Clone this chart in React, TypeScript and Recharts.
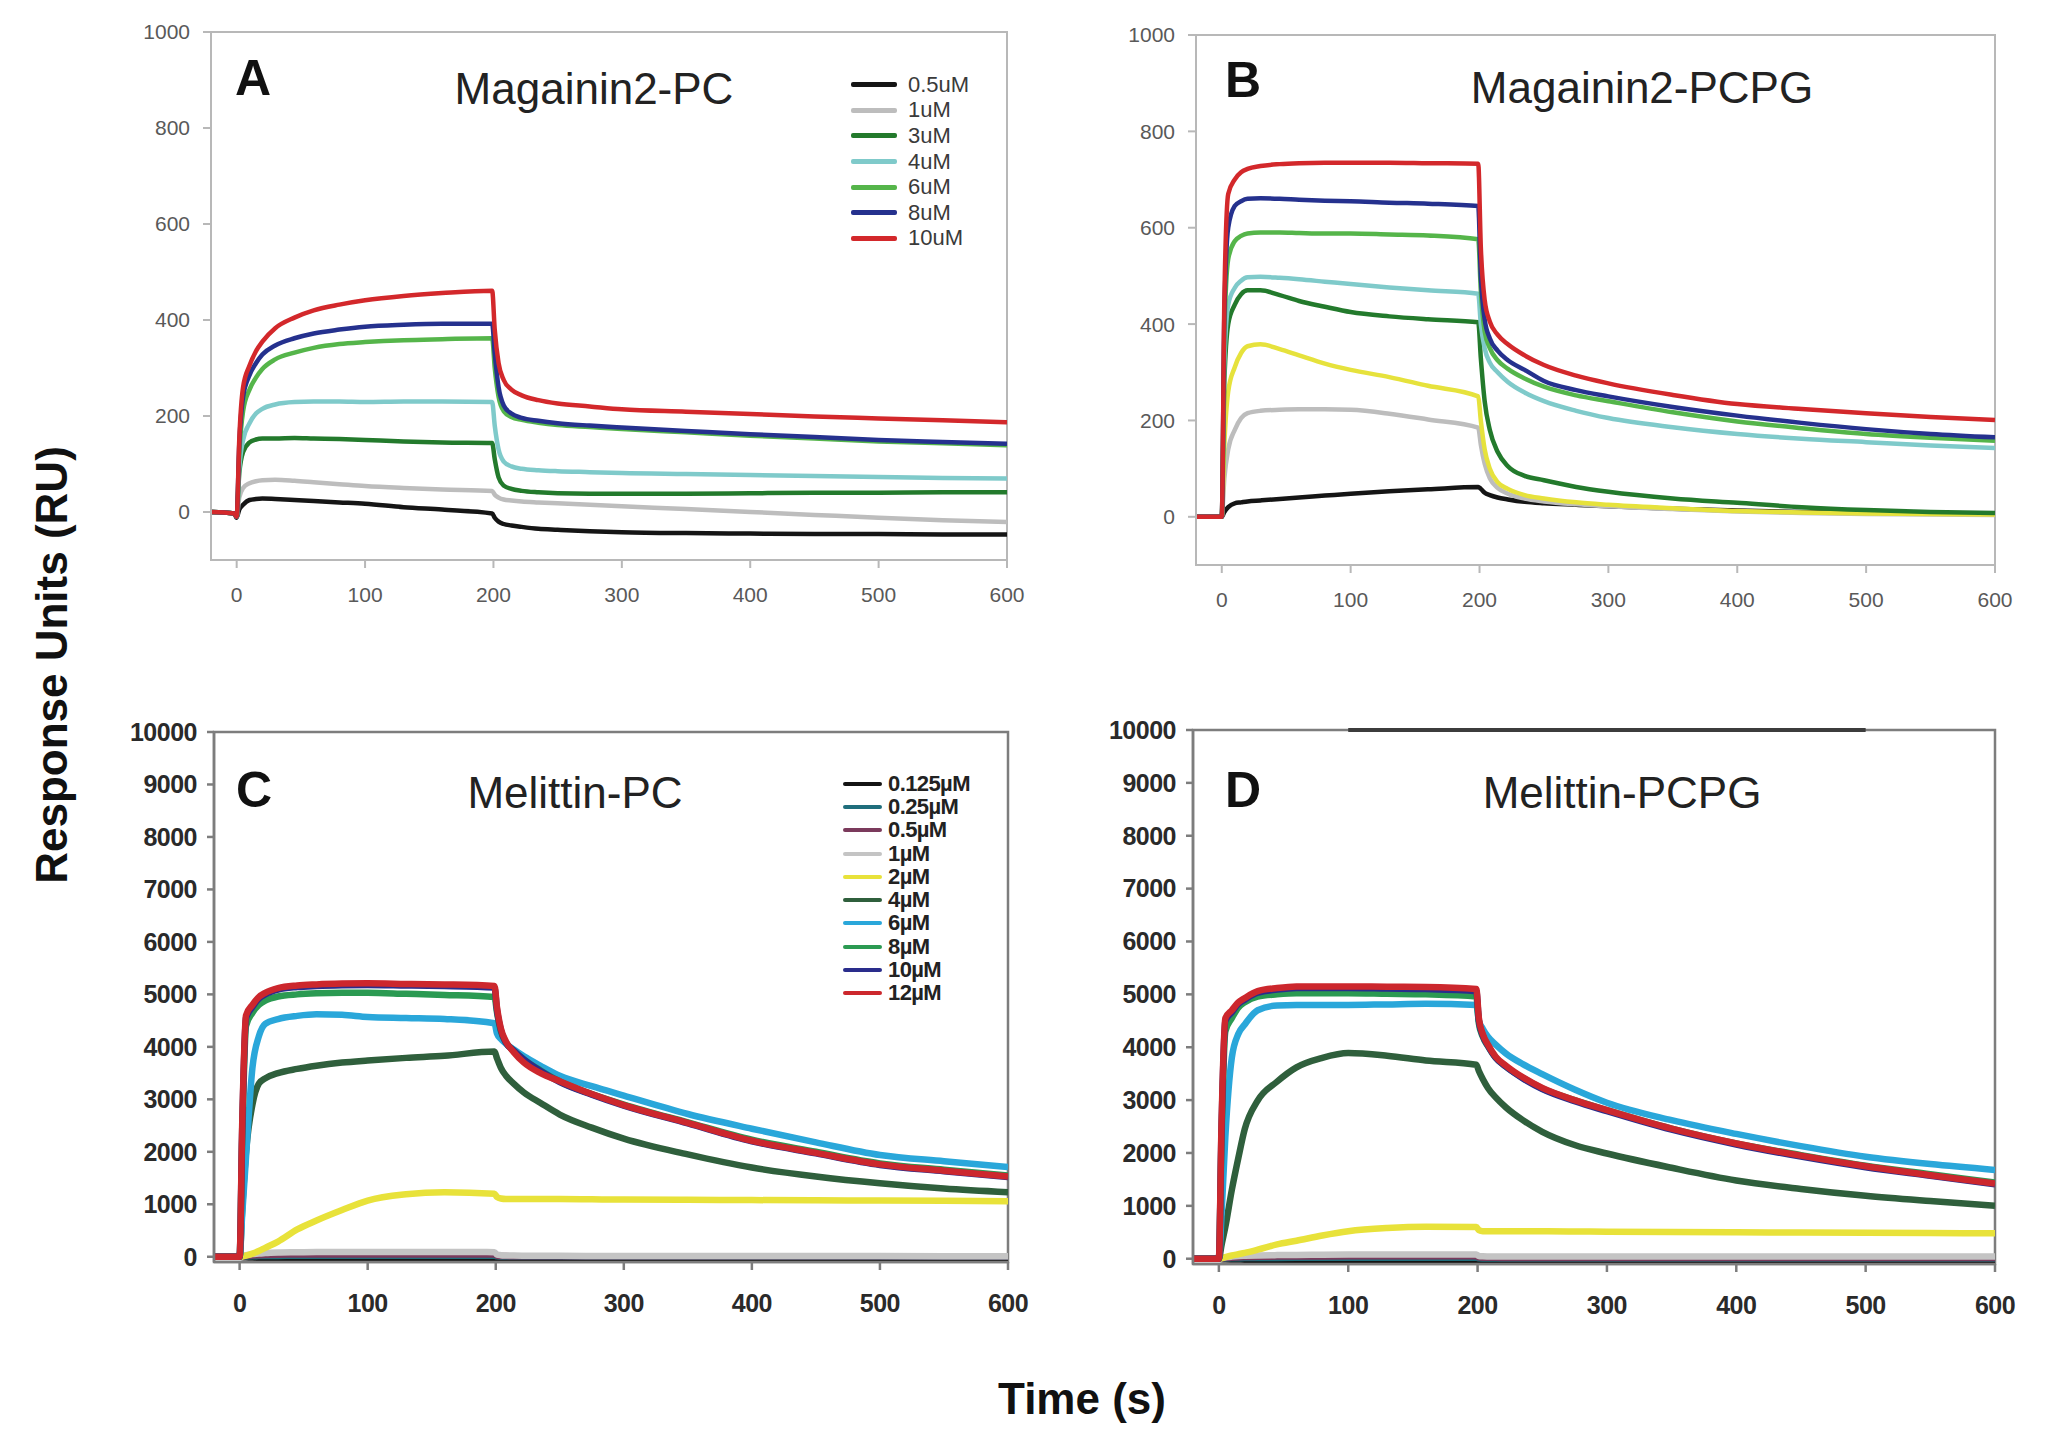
import React from 'react';
import { LineChart, Line, XAxis, YAxis, ReferenceArea, ReferenceLine, Legend } from 'recharts';

// time points (s) shared by every panel
const TIME = [-20, -2, 0, 2, 5, 10, 15, 20, 30, 45, 60, 80, 100, 130, 160, 199, 201, 204, 208, 214, 222, 235, 250, 275, 300, 350, 400, 450, 500, 550, 600];
const X_TICKS = [0, 100, 200, 300, 400, 500, 600];
const Y_TICKS_MAG = [0, 200, 400, 600, 800, 1000];
const Y_TICKS_MEL = [0, 1000, 2000, 3000, 4000, 5000, 6000, 7000, 8000, 9000, 10000];

// A: Magainin2-PC
const magPcLabels = ['0.5uM', '1uM', '3uM', '4uM', '6uM', '8uM', '10uM'];
const magPcColors = ['#151515', '#bdbdbd', '#237a2c', '#7fcaca', '#55b54a', '#25318e', '#d3282b'];
const magPc05 = [0, -3, -12, 5, 15, 25, 27, 28, 27, 25, 23, 20, 17, 10, 5, -3, -12, -20, -25, -28, -31, -35, -37, -40, -42, -44, -45, -46, -46, -47, -47];
const magPc1 = [0, -3, -10, 30, 50, 60, 64, 66, 67, 65, 62, 58, 54, 50, 47, 44, 36, 30, 26, 24, 22, 20, 18, 15, 12, 6, 0, -6, -12, -17, -21];
const magPc3 = [0, -3, -10, 80, 125, 145, 151, 153, 153, 154, 153, 152, 150, 147, 145, 144, 110, 72, 55, 48, 44, 41, 39, 38, 38, 38, 39, 40, 40, 41, 41];
const magPc4 = [0, -3, -10, 90, 150, 185, 205, 215, 224, 229, 230, 230, 229, 230, 230, 229, 180, 130, 105, 95, 90, 87, 85, 83, 81, 79, 77, 75, 73, 71, 70];
const magPc6 = [0, -3, -10, 120, 210, 255, 280, 298, 318, 332, 342, 350, 354, 358, 360, 362, 300, 240, 210, 198, 192, 186, 181, 177, 173, 166, 159, 153, 147, 143, 139];
const magPc8 = [0, -3, -10, 140, 240, 285, 310, 328, 347, 362, 372, 380, 386, 390, 392, 392, 330, 260, 222, 205, 196, 190, 185, 180, 176, 169, 162, 156, 150, 146, 142];
const magPc10 = [0, -3, -10, 150, 260, 305, 335, 355, 383, 405, 420, 432, 441, 450, 456, 461, 380, 310, 275, 255, 243, 233, 226, 220, 214, 209, 204, 199, 195, 191, 187];

// B: Magainin2-PCPG (the yellow trace has no legend entry in the figure)
const magPgColors = ['#151515', '#bdbdbd', '#e6e23c', '#237a2c', '#7fcaca', '#55b54a', '#25318e', '#d3282b'];
const magPg05 = [0, 0, 0, 10, 20, 28, 30, 32, 34, 37, 40, 44, 48, 53, 57, 62, 58, 50, 45, 40, 36, 31, 28, 25, 22, 17, 13, 10, 8, 7, 6];
const magPg1 = [0, 0, 0, 80, 140, 180, 205, 215, 220, 222, 223, 223, 222, 214, 202, 185, 150, 110, 80, 60, 48, 38, 32, 26, 22, 16, 11, 8, 6, 5, 4];
const magPgYellow = [0, 0, 0, 150, 260, 310, 340, 354, 358, 348, 335, 318, 305, 290, 272, 250, 200, 140, 100, 72, 58, 45, 38, 30, 25, 18, 12, 9, 7, 6, 5];
const magPg3 = [0, 0, 0, 280, 400, 440, 462, 470, 470, 460, 448, 436, 425, 416, 410, 404, 330, 240, 180, 135, 105, 85, 76, 62, 52, 38, 29, 20, 14, 10, 8];
const magPg4 = [0, 0, 0, 320, 440, 475, 490, 497, 498, 496, 493, 488, 483, 476, 470, 463, 400, 350, 320, 300, 280, 258, 240, 220, 205, 186, 172, 162, 155, 148, 143];
const magPg6 = [0, 0, 0, 380, 535, 572, 583, 588, 590, 590, 589, 588, 588, 586, 584, 576, 470, 385, 350, 325, 307, 287, 270, 252, 240, 217, 198, 184, 172, 164, 158];
const magPg8 = [0, 0, 0, 420, 600, 645, 655, 660, 661, 660, 658, 656, 655, 652, 650, 645, 500, 410, 370, 345, 325, 305, 282, 263, 250, 228, 210, 195, 182, 172, 165];
const magPg10 = [0, 0, 0, 450, 670, 700, 715, 722, 728, 732, 734, 735, 735, 735, 734, 733, 560, 450, 405, 378, 358, 335, 315, 293, 277, 253, 234, 224, 215, 207, 201];

// C: Melittin-PC
const melLabels = ['0.125\u00b5M', '0.25\u00b5M', '0.5\u00b5M', '1\u00b5M', '2\u00b5M', '4\u00b5M', '6\u00b5M', '8\u00b5M', '10\u00b5M', '12\u00b5M'];
const melColors = ['#141414', '#1f6e7c', '#7b3a5c', '#c4c4c4', '#e8e23a', '#2f5f3c', '#2aa7da', '#2b9a52', '#2a2d8c', '#cc272d'];
const melPc0125 = [0, 0, 0, -5, -10, -15, -18, -20, -22, -25, -28, -30, -32, -33, -34, -35, -35, -36, -36, -37, -37, -38, -38, -38, -39, -39, -40, -40, -40, -40, -40];
const melPc025 = [0, 0, 0, 2, 5, 10, 12, 14, 16, 18, 18, 18, 18, 18, 18, 18, 8, 6, 5, 5, 5, 5, 5, 5, 5, 5, 5, 5, 5, 5, 5];
const melPc05 = [0, 0, 0, 5, 15, 25, 30, 35, 40, 42, 44, 45, 45, 45, 45, 45, 20, 15, 12, 10, 10, 10, 10, 10, 10, 10, 10, 10, 10, 10, 10];
const melPc1 = [0, 0, 0, 10, 30, 50, 60, 70, 80, 85, 90, 90, 90, 90, 90, 88, 40, 30, 25, 22, 20, 18, 17, 16, 15, 14, 13, 12, 12, 11, 10];
const melPc2 = [0, 0, 0, 5, 20, 60, 110, 170, 290, 520, 690, 890, 1070, 1190, 1230, 1200, 1140, 1110, 1100, 1100, 1100, 1100, 1100, 1095, 1090, 1085, 1080, 1075, 1070, 1065, 1060];
const melPc4 = [0, 0, 0, 900, 2000, 2900, 3300, 3400, 3500, 3580, 3640, 3700, 3740, 3790, 3830, 3910, 3780, 3600, 3450, 3300, 3130, 2930, 2710, 2460, 2250, 1950, 1700, 1530, 1400, 1300, 1230];
const melPc6 = [0, 0, 0, 800, 1900, 3600, 4200, 4440, 4530, 4590, 4620, 4610, 4570, 4550, 4530, 4450, 4250, 4150, 4060, 3950, 3820, 3640, 3450, 3250, 3070, 2720, 2440, 2180, 1940, 1820, 1710];
const melPc8 = [0, 0, 0, 2200, 4400, 4650, 4800, 4880, 4960, 5000, 5020, 5030, 5030, 5010, 4990, 4950, 4650, 4300, 4080, 3930, 3760, 3550, 3340, 3100, 2900, 2560, 2230, 2000, 1780, 1660, 1550];
const melPc10 = [0, 0, 0, 2400, 4550, 4760, 4920, 5000, 5090, 5140, 5160, 5175, 5180, 5170, 5160, 5130, 4700, 4320, 4080, 3930, 3760, 3540, 3330, 3090, 2880, 2540, 2200, 1970, 1750, 1630, 1520];
const melPc12 = [0, 0, 0, 2500, 4600, 4800, 4950, 5030, 5120, 5170, 5190, 5205, 5210, 5200, 5190, 5160, 4750, 4350, 4100, 3900, 3700, 3500, 3345, 3100, 2890, 2550, 2210, 1980, 1760, 1640, 1530];

// D: Melittin-PCPG
const melPg0125 = [0, 0, 0, -5, -10, -14, -16, -18, -20, -22, -24, -25, -26, -27, -28, -28, -28, -29, -29, -30, -30, -30, -30, -30, -30, -30, -30, -30, -30, -30, -30];
const melPg025 = [0, 0, 0, 2, 5, 8, 10, 12, 14, 15, 16, 16, 16, 16, 16, 16, 8, 6, 5, 5, 5, 5, 5, 5, 5, 5, 5, 5, 5, 5, 5];
const melPg05 = [0, 0, 0, 5, 12, 20, 25, 30, 35, 40, 42, 44, 45, 45, 45, 45, 25, 20, 18, 16, 15, 15, 15, 15, 15, 15, 15, 15, 15, 15, 15];
const melPg1 = [0, 0, 0, 10, 25, 40, 50, 55, 62, 68, 72, 76, 78, 80, 80, 80, 50, 45, 42, 40, 40, 40, 40, 40, 40, 40, 40, 40, 40, 40, 40];
const melPg2 = [0, 0, 0, 10, 30, 60, 85, 110, 170, 270, 340, 440, 520, 580, 605, 600, 540, 520, 520, 520, 520, 520, 520, 515, 512, 505, 500, 495, 490, 485, 480];
const melPg4 = [0, 0, 0, 250, 600, 1300, 1900, 2450, 2990, 3350, 3620, 3800, 3890, 3840, 3750, 3670, 3550, 3400, 3230, 3050, 2860, 2620, 2400, 2150, 1990, 1720, 1480, 1320, 1190, 1090, 1000];
const melPg6 = [0, 0, 0, 800, 2300, 3800, 4250, 4430, 4700, 4790, 4800, 4800, 4800, 4810, 4820, 4800, 4500, 4350, 4200, 4050, 3880, 3680, 3490, 3200, 2950, 2620, 2360, 2130, 1930, 1790, 1680];
const melPg8 = [0, 0, 0, 2200, 4300, 4550, 4750, 4850, 4960, 5000, 5020, 5020, 5020, 5010, 5000, 4960, 4450, 4200, 4020, 3800, 3630, 3420, 3220, 3000, 2810, 2460, 2180, 1960, 1760, 1600, 1440];
const melPg10 = [0, 0, 0, 2400, 4500, 4660, 4820, 4900, 5030, 5090, 5120, 5120, 5120, 5110, 5100, 5060, 4500, 4220, 4030, 3800, 3630, 3410, 3210, 2980, 2790, 2440, 2160, 1930, 1730, 1570, 1410];
const melPg12 = [0, 0, 0, 2500, 4550, 4700, 4850, 4930, 5060, 5120, 5150, 5150, 5150, 5145, 5140, 5100, 4550, 4250, 4050, 3820, 3650, 3430, 3230, 3000, 2810, 2460, 2180, 1950, 1750, 1580, 1420];

const FONT = '"Liberation Sans", Arial, sans-serif';

const buildRows = (series: number[][]) =>
  TIME.map((t, i) => {
    const row: Record<string, number> = { t };
    series.forEach((s, k) => {
      row['s' + k] = s[i];
    });
    return row;
  });

interface PanelProps {
  left: number;
  top: number;
  plotW: number;
  plotH: number;
  series: number[][];
  colors: string[];
  yDomain: [number, number];
  yTicks: number[];
  heavy: boolean;
  legend?: { labels: string[]; colors: string[]; left: number; top: number; row: number; line: number };
  topMark?: boolean;
}

const Panel: React.FC<PanelProps> = ({ left, top, plotW, plotH, series, colors, yDomain, yTicks, heavy, legend, topMark }) => {
  const yW = 100;
  const xH = 60;
  // extra room on top so the highest tick label is not clipped
  const margin = { top: 30, right: 30, bottom: 0, left: 0 };
  const rows = buildRows(series);
  const axisColor = heavy ? '#7d7d7d' : '#b8b8b8';
  const tickStyle = heavy
    ? { fill: '#2a2a2a', fontSize: 25, fontWeight: 700, fontFamily: FONT, letterSpacing: -0.5 }
    : { fill: '#595959', fontSize: 21, fontFamily: FONT };

  return (
    <div style={{ position: 'absolute', left: left - yW, top: top - margin.top }}>
      <LineChart width={yW + plotW + margin.right} height={margin.top + plotH + xH} data={rows} margin={margin}>
        <XAxis
          dataKey="t"
          type="number"
          domain={[-20, 600]}
          ticks={X_TICKS}
          allowDataOverflow
          height={xH}
          stroke={axisColor}
          strokeWidth={heavy ? 2.5 : 2}
          tickSize={8}
          tickMargin={heavy ? 24 : 19}
          tick={tickStyle}
        />
        <YAxis
          type="number"
          domain={yDomain}
          ticks={yTicks}
          allowDataOverflow
          width={yW}
          stroke={axisColor}
          strokeWidth={heavy ? 2.5 : 2}
          tickSize={heavy ? 7 : 8}
          tickMargin={heavy ? 10 : 13}
          tick={tickStyle}
          interval={0}
        />
        <ReferenceArea
          x1={-20}
          x2={600}
          y1={yDomain[0]}
          y2={yDomain[1]}
          fill="none"
          stroke={axisColor}
          strokeWidth={heavy ? 2.5 : 2}
          ifOverflow="visible"
        />
        {topMark && (
          <ReferenceLine
            segment={[{ x: 100, y: 10000 }, { x: 500, y: 10000 }]}
            stroke="#3c3c3c"
            strokeWidth={4}
            ifOverflow="visible"
          />
        )}
        {series.map((_, k) => (
          <Line
            key={k}
            type="monotone"
            dataKey={'s' + k}
            stroke={colors[k]}
            strokeWidth={heavy ? 6.5 : 4.5}
            dot={false}
            activeDot={false}
            isAnimationActive={false}
          />
        ))}
        {legend && (
          <Legend
            layout="vertical"
            align="center"
            verticalAlign="middle"
            wrapperStyle={{ left: legend.left, top: legend.top, width: 'auto', height: 'auto' }}
            content={() => (
              <div style={{ fontFamily: FONT }}>
                {legend.labels.map((lab, i) => (
                  <div key={lab} style={{ display: 'flex', alignItems: 'center', height: legend.row }}>
                    <span
                      style={{
                        display: 'inline-block',
                        width: legend.line,
                        height: heavy ? 4 : 5,
                        borderRadius: 2,
                        background: legend.colors[i],
                        marginRight: heavy ? 6 : 11,
                      }}
                    />
                    <span
                      style={{
                        fontSize: 22,
                        lineHeight: 1,
                        color: heavy ? '#222' : '#3a3a3a',
                        fontWeight: heavy ? 700 : 400,
                        letterSpacing: heavy ? -0.6 : 0,
                      }}
                    >
                      {lab}
                    </span>
                  </div>
                ))}
              </div>
            )}
          />
        )}
      </LineChart>
    </div>
  );
};

const App: React.FC = () => {
  const titleStyle = { fontFamily: FONT, fontSize: 44, fill: '#222' };
  const letterStyle = { fontFamily: FONT, fontSize: 50, fontWeight: 700, fill: '#111' };
  return (
    <div style={{ position: 'absolute', left: 0, top: 0, width: 2052, height: 1448, background: '#fff', overflow: 'hidden' }}>
      <Panel
        left={211}
        top={32}
        plotW={796}
        plotH={528}
        series={[magPc05, magPc1, magPc3, magPc4, magPc6, magPc8, magPc10]}
        colors={magPcColors}
        yDomain={[-100, 1000]}
        yTicks={Y_TICKS_MAG}
        heavy={false}
        legend={{ labels: magPcLabels, colors: magPcColors, left: 740, top: 70, row: 25.6, line: 46 }}
      />
      <Panel
        left={1196}
        top={35}
        plotW={799}
        plotH={530}
        series={[magPg05, magPg1, magPgYellow, magPg3, magPg4, magPg6, magPg8, magPg10]}
        colors={magPgColors}
        yDomain={[-100, 1000]}
        yTicks={Y_TICKS_MAG}
        heavy={false}
      />
      <Panel
        left={214}
        top={732}
        plotW={794}
        plotH={530}
        series={[melPc0125, melPc025, melPc05, melPc1, melPc2, melPc4, melPc6, melPc8, melPc10, melPc12]}
        colors={melColors}
        yDomain={[-100, 10000]}
        yTicks={Y_TICKS_MEL}
        heavy={true}
        legend={{ labels: melLabels, colors: melColors, left: 729, top: 70, row: 23.3, line: 39 }}
      />
      <Panel
        left={1193}
        top={730}
        plotW={802}
        plotH={534}
        series={[melPg0125, melPg025, melPg05, melPg1, melPg2, melPg4, melPg6, melPg8, melPg10, melPg12]}
        colors={melColors}
        yDomain={[-100, 10000]}
        yTicks={Y_TICKS_MEL}
        heavy={true}
        topMark
      />
      <svg width={2052} height={1448} style={{ position: 'absolute', left: 0, top: 0, pointerEvents: 'none' }}>
        <text x={253} y={95} textAnchor="middle" style={letterStyle}>A</text>
        <text x={594} y={104} textAnchor="middle" style={titleStyle}>Magainin2-PC</text>
        <text x={1243} y={97} textAnchor="middle" style={letterStyle}>B</text>
        <text x={1642} y={103} textAnchor="middle" style={titleStyle}>Magainin2-PCPG</text>
        <text x={254} y={807} textAnchor="middle" style={letterStyle}>C</text>
        <text x={575} y={808} textAnchor="middle" style={titleStyle}>Melittin-PC</text>
        <text x={1243} y={807} textAnchor="middle" style={letterStyle}>D</text>
        <text x={1622} y={808} textAnchor="middle" style={titleStyle}>Melittin-PCPG</text>
        <text
          x={67}
          y={665}
          textAnchor="middle"
          transform="rotate(-90, 67, 665)"
          style={{ fontFamily: FONT, fontSize: 44, fontWeight: 700, fill: '#111' }}
        >
          Response Units (RU)
        </text>
        <text x={1082} y={1414} textAnchor="middle" style={{ fontFamily: FONT, fontSize: 44, fontWeight: 700, fill: '#111' }}>
          Time (s)
        </text>
      </svg>
    </div>
  );
};

export default App;
